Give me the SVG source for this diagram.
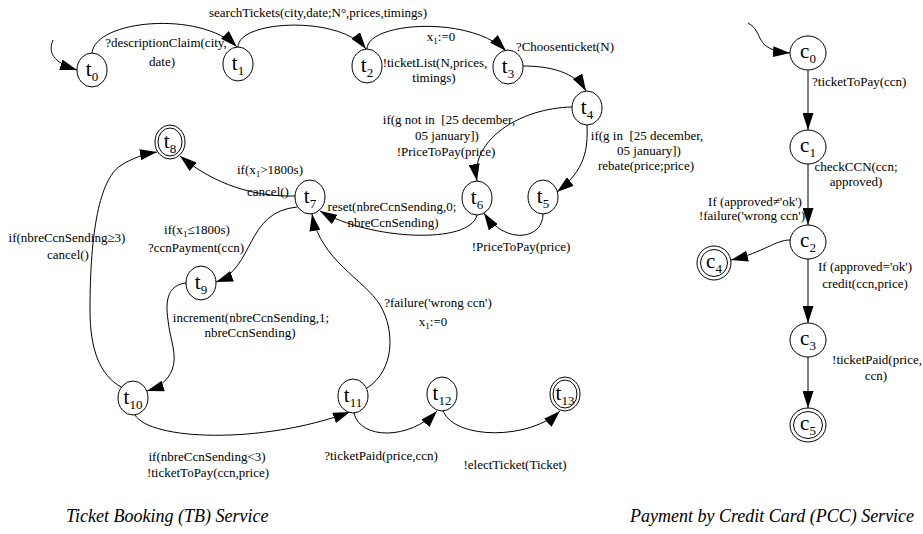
<svg xmlns="http://www.w3.org/2000/svg" width="923" height="534" viewBox="0 0 923 534">
<defs>
<marker id="ah" markerUnits="userSpaceOnUse" markerWidth="17" markerHeight="11" refX="17" refY="5.5" orient="auto" viewBox="0 0 17 11">
<path d="M0,0 L17,5.5 L0,11 z" fill="#000"/>
</marker>
<style>
.n{fill:#fff;stroke:#000;stroke-width:1}
.e{fill:none;stroke:#000;stroke-width:1;marker-end:url(#ah)}
.l{font-family:"Liberation Serif","Times New Roman",serif;font-size:13px;fill:#000}
.m{text-anchor:middle}
.nl{font-family:"Liberation Serif","Times New Roman",serif;font-size:21px;text-anchor:middle;fill:#000}
.sub{font-size:13px}
.s{font-size:9px}
.cap{font-family:"Liberation Serif","Times New Roman",serif;font-size:18px;font-style:italic;fill:#000}
</style>
</defs>
<rect width="923" height="534" fill="#fff"/>

<g id="connectors">
<path class="e" d="M53,40 C48,52 52,62 77,70"/>
<path class="e" d="M92,53 C95,20 200,10 237,47"/>
<path class="e" d="M238,47 C238,20 340,15 366,49"/>
<path class="e" d="M367,49 C367,22 470,15 506,51"/>
<path class="e" d="M523,66 C550,66 575,72 586,91"/>
<path class="e" d="M572,107 C520,108 470,140 477,181"/>
<path class="e" d="M587,125 C588,150 585,170 557,192"/>
<path class="e" d="M543,214 C543,240 505,245 484,213"/>
<path class="e" d="M477,215 C470,245 370,240 320,211"/>
<path class="e" d="M295,196 C255,197 215,185 180,156"/>
<path class="e" d="M297,207 C245,212 255,268 216,282"/>
<path class="e" d="M186,283 C168,285 165,300 168,320 C170,340 178,355 172,370 C168,380 160,387 147,391"/>
<path class="e" d="M121,387 C100,375 90,350 90,310 C90,230 100,180 120,166 C132,158 145,154 157,152"/>
<path class="e" d="M135,415 C150,440 260,445 350,412"/>
<path class="e" d="M354,413 C360,440 410,440 437,411"/>
<path class="e" d="M443,411 C455,440 530,440 560,411"/>
<path class="e" d="M367,388 C395,370 395,330 380,305 C365,280 320,260 312,214"/>
<path class="e" d="M748,23 C765,32 752,50 790,53"/>
<path class="e" d="M808,70 L808,130"/>
<path class="e" d="M808,164 L808,225"/>
<path class="e" d="M808,259 L808,323"/>
<path class="e" d="M808,357 L808,408"/>
<path class="e" d="M790,240 C775,240 765,252 731,260"/>
</g>

<g id="labels">
<text class="l m" x="318" y="17">searchTickets(city,date;N°,prices,timings)</text>
<text class="l m" x="166" y="47">?descriptionClaim(city,</text>
<text class="l m" x="162" y="66">date)</text>
<text class="l m" x="441" y="41">x<tspan class="s" dy="3">1</tspan><tspan dy="-3">:=0</tspan></text>
<text class="l m" x="435" y="67">!ticketList(N,prices,</text>
<text class="l m" x="434" y="82">timings)</text>
<text class="l m" x="565" y="51">?Choosenticket(N)</text>
<text class="l m" x="449" y="124" xml:space="preserve">if(g not in  [25 december,</text>
<text class="l m" x="447" y="140">05 january])</text>
<text class="l m" x="446" y="156">!PriceToPay(price)</text>
<text class="l m" x="647" y="140" xml:space="preserve">if(g in  [25 december,</text>
<text class="l m" x="649" y="155">05 january])</text>
<text class="l m" x="646" y="170">rebate(price;price)</text>
<text class="l m" x="270" y="174">if(x<tspan class="s" dy="3">1</tspan><tspan dy="-3">&gt;1800s)</tspan></text>
<text class="l m" x="268" y="196">cancel()</text>
<text class="l m" x="392" y="211">reset(nbreCcnSending,0;</text>
<text class="l m" x="393" y="227">nbreCcnSending)</text>
<text class="l m" x="521" y="251">!PriceToPay(price)</text>
<text class="l m" x="197" y="234">if(x<tspan class="s" dy="3">1</tspan><tspan dy="-3">≤1800s)</tspan></text>
<text class="l m" x="196" y="252">?ccnPayment(ccn)</text>
<text class="l m" x="67" y="242">if(nbreCcnSending≥3)</text>
<text class="l m" x="68" y="259">cancel()</text>
<text class="l m" x="251" y="322">increment(nbreCcnSending,1;</text>
<text class="l m" x="250" y="337">nbreCcnSending)</text>
<text class="l m" x="438" y="307">?failure('wrong ccn')</text>
<text class="l m" x="433" y="326">x<tspan class="s" dy="3">1</tspan><tspan dy="-3">:=0</tspan></text>
<text class="l m" x="207" y="461">if(nbreCcnSending&lt;3)</text>
<text class="l m" x="208" y="477">!ticketToPay(ccn,price)</text>
<text class="l m" x="381" y="460">?ticketPaid(price,ccn)</text>
<text class="l m" x="515" y="469">!electTicket(Ticket)</text>
<text class="l" x="812" y="86">?ticketToPay(ccn)</text>
<text class="l m" x="856" y="171">checkCCN(ccn;</text>
<text class="l m" x="856" y="186">approved)</text>
<text class="l m" x="755" y="206">If (approved≠'ok')</text>
<text class="l m" x="752" y="220">!failure('wrong ccn')</text>
<text class="l m" x="865" y="271">If (approved='ok')</text>
<text class="l m" x="865" y="288">credit(ccn,price)</text>
<text class="l m" x="877" y="364">!ticketPaid(price,</text>
<text class="l m" x="876" y="380">ccn)</text>
</g>

<g id="t0"><ellipse class="n" cx="92" cy="70" rx="15" ry="17"/><text class="nl" x="92" y="76">t<tspan class="sub" dy="5">0</tspan></text></g>
<g id="t1"><ellipse class="n" cx="238" cy="64" rx="15" ry="17"/><text class="nl" x="238" y="70">t<tspan class="sub" dy="5">1</tspan></text></g>
<g id="t2"><ellipse class="n" cx="367" cy="66" rx="15" ry="17"/><text class="nl" x="367" y="72">t<tspan class="sub" dy="5">2</tspan></text></g>
<g id="t3"><ellipse class="n" cx="508" cy="67" rx="15" ry="17"/><text class="nl" x="508" y="73">t<tspan class="sub" dy="5">3</tspan></text></g>
<g id="t4"><ellipse class="n" cx="587" cy="108" rx="15" ry="17"/><text class="nl" x="587" y="114">t<tspan class="sub" dy="5">4</tspan></text></g>
<g id="t5"><ellipse class="n" cx="543" cy="197" rx="15" ry="17"/><text class="nl" x="543" y="203">t<tspan class="sub" dy="5">5</tspan></text></g>
<g id="t6"><ellipse class="n" cx="477" cy="198" rx="15" ry="17"/><text class="nl" x="477" y="204">t<tspan class="sub" dy="5">6</tspan></text></g>
<g id="t7"><ellipse class="n" cx="310" cy="197" rx="15" ry="17"/><text class="nl" x="310" y="203">t<tspan class="sub" dy="5">7</tspan></text></g>
<g id="t8"><ellipse class="n" cx="170" cy="142" rx="15" ry="17"/><ellipse class="n" cx="170" cy="142" rx="12" ry="14"/><text class="nl" x="170" y="148">t<tspan class="sub" dy="5">8</tspan></text></g>
<g id="t9"><ellipse class="n" cx="201" cy="283" rx="15" ry="17"/><text class="nl" x="201" y="289">t<tspan class="sub" dy="5">9</tspan></text></g>
<g id="t10"><ellipse class="n" cx="133" cy="398" rx="15" ry="17"/><text class="nl" x="133" y="404">t<tspan class="sub" dy="5">10</tspan></text></g>
<g id="t11"><ellipse class="n" cx="353" cy="396" rx="15" ry="17"/><text class="nl" x="353" y="402">t<tspan class="sub" dy="5">11</tspan></text></g>
<g id="t12"><ellipse class="n" cx="442" cy="394" rx="15" ry="17"/><text class="nl" x="442" y="400">t<tspan class="sub" dy="5">12</tspan></text></g>
<g id="t13"><ellipse class="n" cx="565" cy="394" rx="15" ry="17"/><ellipse class="n" cx="565" cy="394" rx="12" ry="14"/><text class="nl" x="565" y="400">t<tspan class="sub" dy="5">13</tspan></text></g>

<g id="c0"><ellipse class="n" cx="808" cy="53" rx="18" ry="17"/><text class="nl" x="808" y="58">c<tspan class="sub" dy="5">0</tspan></text></g>
<g id="c1"><ellipse class="n" cx="808" cy="147" rx="18" ry="17"/><text class="nl" x="808" y="152">c<tspan class="sub" dy="5">1</tspan></text></g>
<g id="c2"><ellipse class="n" cx="808" cy="242" rx="18" ry="17"/><text class="nl" x="808" y="247">c<tspan class="sub" dy="5">2</tspan></text></g>
<g id="c3"><ellipse class="n" cx="808" cy="340" rx="18" ry="17"/><text class="nl" x="808" y="345">c<tspan class="sub" dy="5">3</tspan></text></g>
<g id="c4"><ellipse class="n" cx="714" cy="263" rx="17" ry="17"/><ellipse class="n" cx="714" cy="263" rx="13.5" ry="13.5"/><text class="nl" x="714" y="268">c<tspan class="sub" dy="5">4</tspan></text></g>
<g id="c5"><ellipse class="n" cx="808" cy="425" rx="18" ry="17"/><ellipse class="n" cx="808" cy="425" rx="14.5" ry="13.5"/><text class="nl" x="808" y="430">c<tspan class="sub" dy="5">5</tspan></text></g>

<g id="captions">
<text class="cap" x="66" y="522">Ticket Booking (TB) Service</text>
<text class="cap" x="630" y="522">Payment by Credit Card (PCC) Service</text>
</g>
</svg>
